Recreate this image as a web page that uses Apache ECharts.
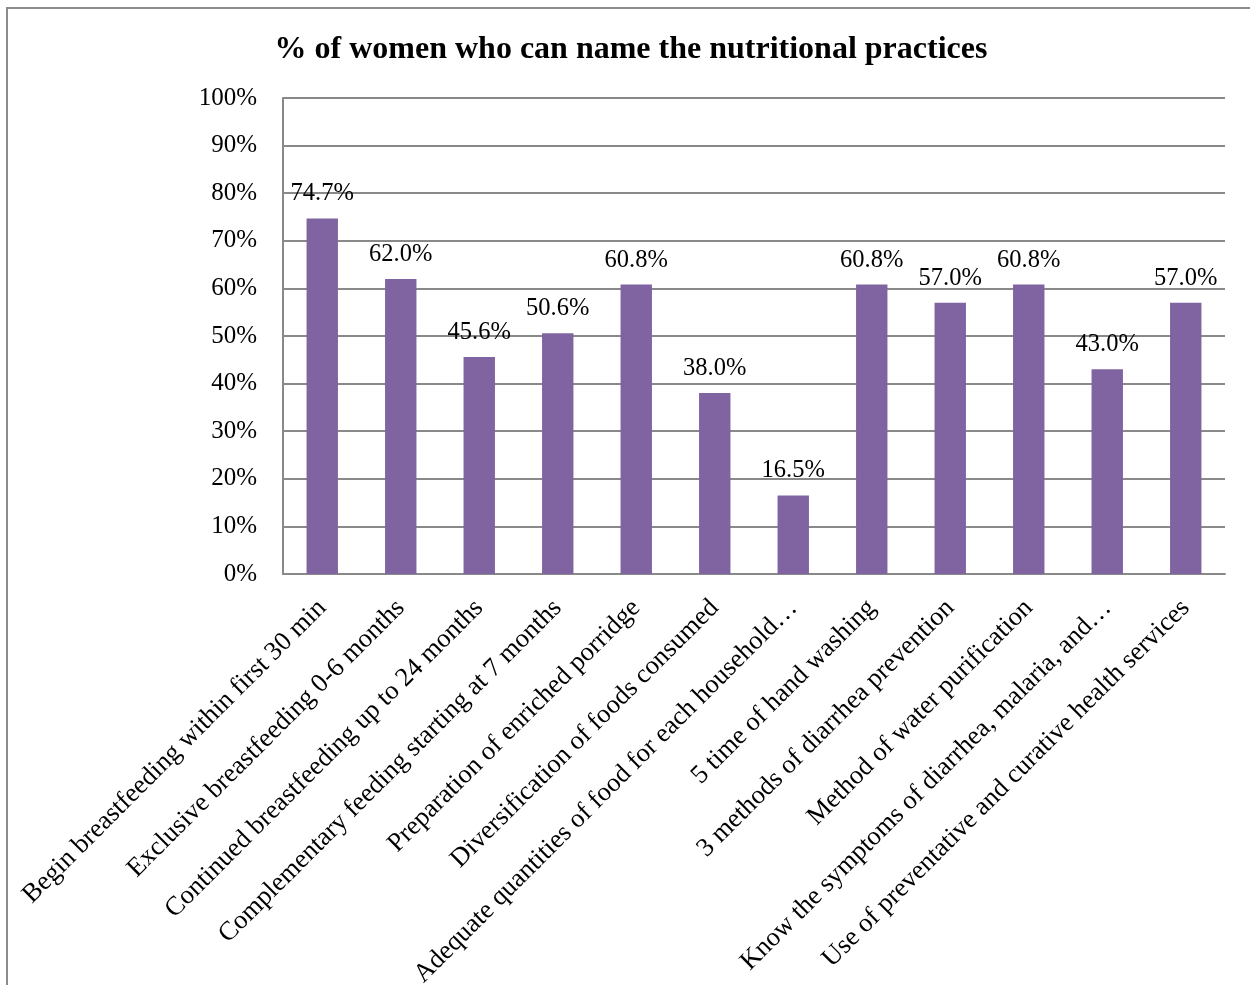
<!DOCTYPE html>
<html>
<head>
<meta charset="utf-8">
<script src="https://cdn.jsdelivr.net/npm/echarts@6/dist/echarts.min.js"></script>
<style>
  html, body { margin: 0; padding: 0; background: #fff; }
  #chart { width: 1250px; height: 985px; }
</style>
</head>
<body>
<div id="chart"></div>
<script>
// Nutritional practices named by women, share in percent
const categories = [
  'Begin breastfeeding within first 30 min',
  'Exclusive breastfeeding 0-6 months',
  'Continued breastfeeding up to 24 months',
  'Complementary feeding starting at 7 months',
  'Preparation of enriched porridge',
  'Diversification of foods consumed',
  'Adequate quantities of food for each household…',
  '5 time of hand washing',
  '3 methods of diarrhea prevention',
  'Method of water purification',
  'Know the symptoms of diarrhea, malaria, and…',
  'Use of preventative and curative health services'
];
const values = [74.7, 62.0, 45.6, 50.6, 60.8, 38.0, 16.5, 60.8, 57.0, 60.8, 43.0, 57.0];
const titleText = '% of women who can name the nutritional practices';

const serif = '"Liberation Serif", "Times New Roman", serif';
const gridColor = '#898989';

const chart = echarts.init(document.getElementById('chart'), null, { renderer: 'canvas' });
chart.setOption({
  backgroundColor: '#fff',
  animation: false,
  title: {
    text: titleText,
    left: 626,
    top: 29,
    textAlign: 'center',
    textStyle: { fontFamily: serif, fontSize: 32, fontWeight: 'bold', color: '#000' }
  },
  graphic: [{
    type: 'rect',
    shape: { x: 7, y: 8, width: 1260, height: 1000 },
    style: { fill: 'none', stroke: '#8c8c8c', lineWidth: 2 },
    silent: true
  }],
  grid: { left: 283, right: 25, top: 98, bottom: 411, outerBoundsMode: 'none', containLabel: false },
  xAxis: {
    type: 'category',
    data: categories,
    axisLine: { lineStyle: { color: gridColor, width: 2 } },
    axisTick: { show: false },
    axisLabel: {
      interval: 0,
      rotate: 45,
      margin: 30,
      fontFamily: serif,
      fontSize: 26.5,
      color: '#000'
    }
  },
  yAxis: {
    type: 'value',
    min: 0,
    max: 100,
    interval: 10,
    axisLine: { show: true, lineStyle: { color: gridColor, width: 2 } },
    axisTick: { show: false },
    splitLine: { lineStyle: { color: gridColor, width: 2 } },
    axisLabel: {
      margin: 26,
      fontFamily: serif,
      fontSize: 25,
      color: '#000',
      formatter: v => v + '%'
    }
  },
  series: [{
    type: 'bar',
    data: values,
    barWidth: '40%',
    itemStyle: { color: '#8064A2' },
    label: {
      show: true,
      position: 'top',
      distance: 12,
      fontFamily: serif,
      fontSize: 24.5,
      color: '#000',
      formatter: p => p.value.toFixed(1) + '%'
    }
  }]
});
</script>
</body>
</html>
